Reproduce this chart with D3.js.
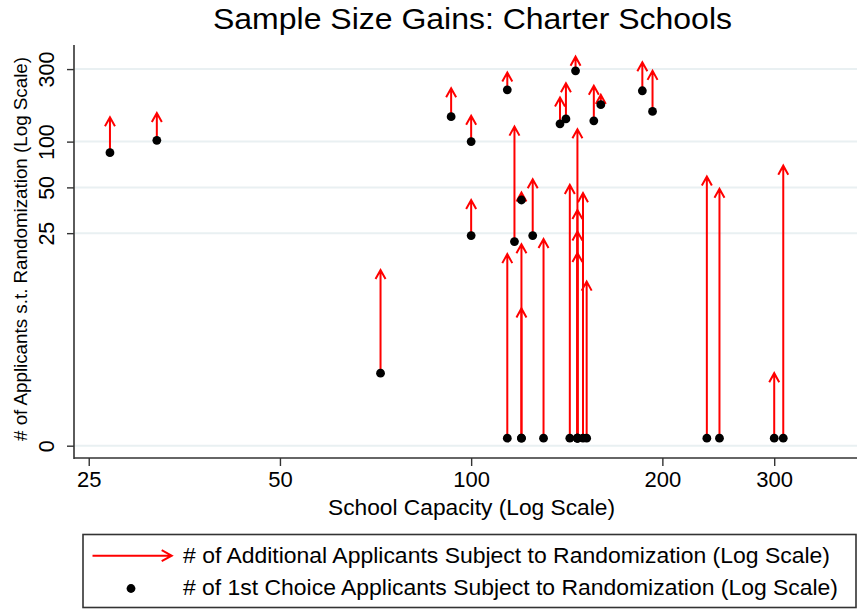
<!DOCTYPE html>
<html>
<head>
<meta charset="utf-8">
<script src="https://cdn.jsdelivr.net/npm/d3@7"></script>
<style>
  html, body { margin: 0; padding: 0; background: #fff; }
  svg { display: block; font-family: "Liberation Sans", Arial, Helvetica, sans-serif; }
</style>
</head>
<body>
<svg id="chart" width="867" height="612"></svg>
<script>
// School capacity (x), 1st-choice applicants (arrow start / dot), total applicants subject to randomization (arrow tip)
const capacity    = [27, 32, 72, 93, 100, 100, 114, 114, 117, 120, 120, 120, 125, 130, 138, 141, 143, 146, 147, 147, 147, 147, 150, 152, 156, 160, 186, 193, 235, 246, 300, 310];
const firstChoice = [84.6, 102, 3.0, 146, 100, 24.1, 219, 0, 22, 41.3, 0, 0, 24.1, 0, 131, 141, 0, 292, 0, 0, 0, 0, 0, 0, 137, 175, 216, 158, 0, 0, 0, 0];
const totalApps   = [144.7, 154, 14.3, 224.5, 148, 41.3, 285, 18.2, 125.5, 46.2, 21.1, 8.0, 56.6, 22.9, 195, 242, 51.9, 362, 120.7, 35.5, 25.6, 18.5, 45.8, 12.0, 233, 203, 333, 292, 59, 49, 3.0, 69.5];

const xTicks = [25, 50, 100, 200, 300];
const yTicks = [0, 25, 50, 100, 300];

const titleText  = "Sample Size Gains: Charter Schools";
const xLabelText = "School Capacity (Log Scale)";
const yLabelText = "# of Applicants s.t. Randomization (Log Scale)";
const legendTexts = [
  "# of Additional Applicants Subject to Randomization (Log Scale)",
  "# of 1st Choice Applicants Subject to Randomization (Log Scale)"
];

// On the log axis, the tick labelled "0" sits at 1; zero counts are drawn just above it.
const ZERO_TICK = 1;
const ZERO_MARK = 1.12;

(function () {
const svg = d3.select("#chart");
const pLeft = 74, pRight = 857, pTop = 45, pBottom = 458;

const x = d3.scaleLog().domain([23.7, 405]).range([pLeft, pRight]);
const y = d3.scaleLog().domain([0.83, 432]).range([pBottom, pTop]);
const yTickPos = v => y(v === 0 ? ZERO_TICK : v);
const yMark = v => y(v === 0 ? ZERO_MARK : v);

const red = "#ff0000";
const axisColor = "#333333";

// gridlines
svg.append("g").selectAll("line").data(yTicks).join("line")
  .attr("x1", pLeft + 1).attr("x2", pRight)
  .attr("y1", d => yTickPos(d)).attr("y2", d => yTickPos(d))
  .attr("stroke", "#e9f0f2").attr("stroke-width", 2);

// Y axis
const yAxis = d3.axisLeft(y).tickValues(yTicks.map(d => d === 0 ? ZERO_TICK : d))
  .tickFormat((d, i) => String(yTicks[i])).tickSize(7).tickPadding(6);
const gy = svg.append("g").attr("transform", `translate(${pLeft},0)`).call(yAxis);
gy.select(".domain").attr("stroke", axisColor).attr("stroke-width", 1.6)
  .attr("d", `M0,${pTop}V${pBottom + 1}`);
gy.selectAll(".tick line").attr("stroke", axisColor).attr("stroke-width", 1.4);
gy.selectAll(".tick text")
  .attr("font-size", 21.5).attr("fill", "#000")
  .attr("x", null).attr("dy", null)
  .attr("text-anchor", "middle")
  .attr("transform", "translate(-20,0) rotate(-90)");

// X axis
const xAxis = d3.axisBottom(x).tickValues(xTicks).tickFormat(d => String(d)).tickSize(8).tickPadding(5);
const gx = svg.append("g").attr("transform", `translate(0,${pBottom})`).call(xAxis);
gx.select(".domain").attr("stroke", axisColor).attr("stroke-width", 1.6)
  .attr("d", `M${pLeft},0H${pRight}`);
gx.selectAll(".tick line").attr("stroke", axisColor).attr("stroke-width", 1.4);
gx.selectAll(".tick text").attr("font-size", 22).attr("fill", "#000");

// data records
const data = capacity.map((c, i) => ({ c, f: firstChoice[i], t: totalApps[i] }));

function arrowPath(x0, y0, x1, y1, len, half) {
  const dx = x1 - x0, dy = y1 - y0;
  const L = Math.hypot(dx, dy) || 1;
  const ux = dx / L, uy = dy / L;
  const bx = x1 - ux * len, by = y1 - uy * len;
  const px = -uy * half, py = ux * half;
  return `M${x0},${y0}L${x1},${y1}M${bx + px},${by + py}L${x1},${y1}L${bx - px},${by - py}`;
}

// arrows
svg.append("g").selectAll("path").data(data).join("path")
  .attr("d", d => arrowPath(x(d.c), yMark(d.f), x(d.c), y(d.t), 9, 5))
  .attr("fill", "none").attr("stroke", red).attr("stroke-width", 2);

// dots
svg.append("g").selectAll("circle").data(data).join("circle")
  .attr("cx", d => x(d.c)).attr("cy", d => yMark(d.f)).attr("r", 4.4)
  .attr("fill", "#000");

// title
svg.append("text").attr("x", 472.5).attr("y", 28.5).attr("text-anchor", "middle")
  .attr("font-size", 30).attr("fill", "#000")
  .attr("textLength", 519).attr("lengthAdjust", "spacingAndGlyphs").text(titleText);

// x label
svg.append("text").attr("x", 471.5).attr("y", 515).attr("text-anchor", "middle")
  .attr("font-size", 22).attr("fill", "#000")
  .attr("textLength", 287).attr("lengthAdjust", "spacingAndGlyphs").text(xLabelText);

// y label
svg.append("text").attr("transform", `translate(27,249) rotate(-90)`).attr("text-anchor", "middle")
  .attr("font-size", 19).attr("fill", "#000")
  .attr("textLength", 384).attr("lengthAdjust", "spacingAndGlyphs").text(yLabelText);

// legend
const lg = svg.append("g");
lg.append("rect").attr("x", 83).attr("y", 534.5).attr("width", 773).attr("height", 73)
  .attr("fill", "#fff").attr("stroke", "#333").attr("stroke-width", 1.6);
lg.append("path").attr("d", arrowPath(92.5, 555.7, 171.7, 555.7, 10, 5.5))
  .attr("fill", "none").attr("stroke", red).attr("stroke-width", 2);
lg.append("circle").attr("cx", 131).attr("cy", 588.5).attr("r", 4.4).attr("fill", "#000");
const legendWidths = [647, 655];
lg.selectAll("text").data(legendTexts).join("text")
  .attr("x", 183).attr("y", (d, i) => 562.7 + i * 32.3)
  .attr("font-size", 22).attr("fill", "#000")
  .attr("textLength", (d, i) => legendWidths[i]).attr("lengthAdjust", "spacingAndGlyphs")
  .text(d => d);
})();
</script>
</body>
</html>
